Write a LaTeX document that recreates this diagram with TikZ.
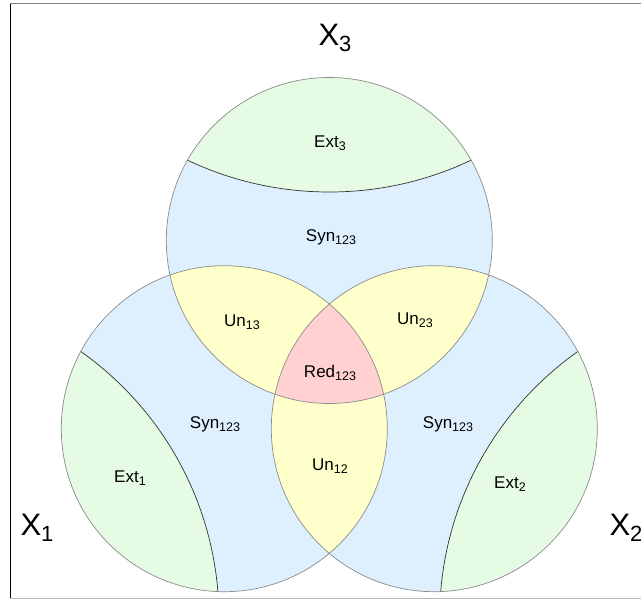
\documentclass[tikz,border=0pt]{standalone}
\usepackage{fontspec}
\setmainfont{Liberation Sans}
\definecolor{extg}{RGB}{229,251,227}
\definecolor{synb}{RGB}{222,239,253}
\definecolor{uny}{RGB}{255,255,204}
\definecolor{redp}{RGB}{255,209,209}
\definecolor{ringc}{RGB}{140,140,140}
\definecolor{extc}{RGB}{50,50,50}
\newcommand{\lsb}[1]{\raisebox{-0.38ex}{\fontsize{12.5}{13}\selectfont #1}}
\newcommand{\bsb}[1]{\raisebox{-0.38ex}{\fontsize{22}{24}\selectfont #1}}
\tikzset{
  ring/.style={draw=ringc, line width=0.7pt},
  extline/.style={draw=extc, line width=0.7pt},
  lab/.style={font=\fontsize{17}{19}\selectfont, inner sep=0pt},
  biglab/.style={font=\fontsize{31}{34}\selectfont, inner sep=0pt}
}
\begin{document}
\begin{tikzpicture}[x=1pt,y=-1pt]
\useasboundingbox (0,0) rectangle (641,600);
\fill[white] (0,0) rectangle (641,600);
\coordinate (C1) at (224.3,428.7);
\coordinate (C2) at (434.3,428.7);
\coordinate (C3) at (329.3,240.5);
\coordinate (E1) at (-108,618.5);
\coordinate (E2) at (766.6,618.5);
\coordinate (E3) at (329.3,-139);
% base blue
\foreach \c in {C1,C2,C3} \fill[synb] (\c) circle[radius=163pt];
% ext regions
\begin{scope}
  \clip (C1) circle[radius=163pt];
  \fill[extg] (E1) circle[radius=327pt];
  \draw[extline] (E1) circle[radius=327pt];
\end{scope}
\begin{scope}
  \clip (C2) circle[radius=163pt];
  \fill[extg] (E2) circle[radius=327pt];
  \draw[extline] (E2) circle[radius=327pt];
\end{scope}
\begin{scope}
  \clip (C3) circle[radius=163pt];
  \fill[extg] (E3) circle[radius=331pt];
  \draw[extline] (E3) circle[radius=331pt];
\end{scope}
% pairwise
\begin{scope}
  \clip (C1) circle[radius=163pt];
  \fill[uny] (C2) circle[radius=163pt];
  \fill[uny] (C3) circle[radius=163pt];
\end{scope}
\begin{scope}
  \clip (C2) circle[radius=163pt];
  \fill[uny] (C3) circle[radius=163pt];
\end{scope}
% triple
\begin{scope}
  \clip (C1) circle[radius=163pt];
  \clip (C2) circle[radius=163pt];
  \fill[redp] (C3) circle[radius=163pt];
\end{scope}
% outlines
\foreach \c in {C1,C2,C3} \draw[ring] (\c) circle[radius=163pt];
% frame
\draw[black, line width=1pt] (10.7,3.2) -- (10.7,598.5);
\draw[gray, line width=1.3pt] (10.2,3.7) -- (645,3.7);
\draw[gray!55, line width=1pt] (10.2,598.8) -- (645,598.8);
% labels
\node[lab] (ext3) at (330,143) {Ext\lsb{3}};
\node[lab] (syntop) at (331,237) {Syn\lsb{123}};
\node[lab] (un13) at (242,322) {Un\lsb{13}};
\node[lab] (un23) at (415,320) {Un\lsb{23}};
\node[lab] (red) at (330,373) {Red\lsb{123}};
\node[lab] (synleft) at (215,424) {Syn\lsb{123}};
\node[lab] (synright) at (448,424) {Syn\lsb{123}};
\node[lab] (un12) at (330,466) {Un\lsb{12}};
\node[lab] (ext1) at (130,478) {Ext\lsb{1}};
\node[lab] (ext2) at (510,484) {Ext\lsb{2}};
\node[biglab] (x3) at (335,38) {X\bsb{3}};
\node[biglab] (x1) at (37,528) {X\bsb{1}};
\node[biglab] (x2) at (626,528) {X\bsb{2}};
\end{tikzpicture}
\end{document}
